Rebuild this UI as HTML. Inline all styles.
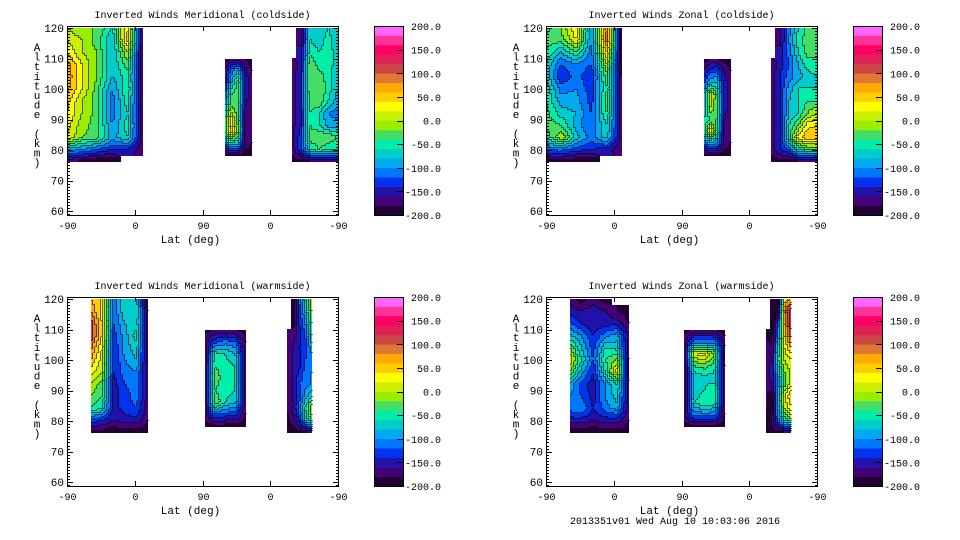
<!DOCTYPE html>
<html><head><meta charset="utf-8"><style>
body{margin:0;background:#fff;}
svg{display:block;font-family:"Liberation Mono",monospace;font-size:10px;}
</style></head><body>
<svg id="chart" width="960" height="540" viewBox="0 0 960 540" xmlns="http://www.w3.org/2000/svg"></svg>
<script>
// ---- data ----
const bandColors = ["#220033","#440077","#2211aa","#0033ee","#0077ff","#00aaee","#00cccc","#00eeaa","#44dd66","#99ee00","#ccee00","#ffff00","#ffcc00","#ffaa00","#dd7733","#cc4444","#dd2255","#ff0066","#ff3399","#ff66ff"];
const colorbarLabels = ["200.0","150.0","100.0","50.0","0.0","-50.0","-100.0","-150.0","-200.0"];
const latTickLabels = ["-90","0","90","0","-90"];
const altTickLabels = ["120","110","100","90","80","70","60"];
const altRowsA = [120,116,112,108,104,100,96,92,88,84,80,76];
const altRowsB = [110,106,102,98,94,90,86,82,78];

const tlA = [[0,-20,-20,-60,40,-180],[20,0,-30,-80,50,-180],[40,0,-20,-80,0,-180],[70,20,-20,-80,-30,-180],[80,20,-20,-80,-50,-170],[70,20,-30,-100,-40,-170],[50,0,-30,-110,-50,-170],[40,0,-30,-110,-60,-170],[30,-10,-30,-100,-50,-170],[20,-20,-30,-90,-60,-170],[-80,-100,-120,-140,-140,-180],[-180,-190,-200,-200,null,null]];
const tlB = [[-190,-180,-180,-180,-190],[-160,-110,-80,-150,-180],[-150,-80,-30,-150,-170],[-120,-40,-20,-150,-170],[-80,-20,-40,-160,-170],[-40,30,-30,-170,-170],[-40,50,-20,-170,-170],[-120,-60,-80,-170,-180],[-190,-190,-190,-190,-190]];
const tlC = [[null,-170,-60,-80,-60,-80],[null,-170,-60,-70,-50,-80],[null,-150,-50,-60,-50,-70],[-180,-150,-20,-50,-50,-70],[-170,-140,-20,-30,-50,-80],[-170,-140,-20,-20,-50,-80],[-170,-140,-30,-20,-60,-90],[-170,-140,-40,-60,-100,-110],[-170,-140,-40,-60,-90,-90],[-170,-130,-30,-20,-20,-40],[-170,-130,-60,-40,-60,-60],[-190,-190,-190,-190,-190,-190]];

const trA = [[-50,-20,40,-100,80,-200],[-30,-30,20,-100,90,-200],[-40,-80,-40,-110,40,-200],[-60,-120,-100,-120,0,-200],[-60,-140,-110,-140,-30,-190],[-40,-110,-100,-130,-40,-180],[-40,-90,-90,-130,-30,-170],[-30,-70,-80,-120,-40,-170],[-30,-40,-90,-120,-60,-170],[-60,0,-70,-110,-70,-170],[-120,-110,-130,-140,-150,-180],[-190,-190,-200,-200,null,null]];
const trB = [[-190,-180,-180,-190,-190],[-160,-130,-120,-160,-180],[-130,-80,-80,-150,-170],[-90,20,-40,-150,-170],[-80,0,-40,-150,-170],[-60,-40,-40,-160,-170],[-60,40,-50,-180,-170],[-120,-90,-100,-170,-180],[-190,-190,-190,-190,-190]];
const trC = [[null,-170,-110,-60,-30,-40],[null,-170,-100,-50,-30,-40],[null,-150,-110,-60,-30,-40],[-180,-150,-120,-80,-50,-40],[-170,-140,-110,-90,-70,-60],[-170,-140,-90,-60,-60,-60],[-170,-140,-80,-60,-40,-40],[-170,-140,-80,-60,-20,0],[-170,-140,-60,-20,30,40],[-170,-140,-50,30,60,60],[-170,-140,-120,-60,-40,-40],[-190,-190,-190,-190,-190,-190]];

const blA = [[60,40,-110,-60,-70,-190],[80,30,-120,-60,-60,-180],[110,40,-120,-80,-70,-170],[120,40,-130,-90,-50,-170],[90,20,-140,-90,-70,-170],[60,10,-140,-100,-80,-170],[30,0,-140,-110,-100,-170],[0,-30,-150,-120,-110,-170],[-20,-40,-150,-130,-110,-170],[-40,-60,-150,-130,-120,-170],[-130,-140,-160,-150,-150,-180],[-190,-190,-200,-190,-190,-190]];
const blB = [[-190,-180,-180,-180,-190],[-170,-130,-110,-120,-180],[-180,-50,-60,-80,-170],[-180,-40,-50,-60,-170],[-180,-30,-50,-60,-170],[-180,-40,-50,-60,-170],[-180,-20,-60,-80,-170],[-170,-120,-130,-130,-180],[-190,-190,-190,-190,-190]];
const blC = [[null,-200,-120,-60,0],[null,-200,-130,-80,-20],[null,-190,-140,-100,-40],[-180,-170,-150,-120,-60],[-180,-160,-140,-130,-90],[-180,-160,-150,-120,-110],[-180,-160,-140,-110,-100],[-180,-160,-120,-110,-100],[-180,-160,-130,-90,-60],[-180,-160,-110,-60,0],[-190,-170,-140,-80,-40],[-200,-190,-190,-190,-190]];

const brA = [[-170,-190,-170,-190,null,null],[-150,-160,-150,-160,-180,-190],[-120,-140,-160,-150,-150,-180],[-80,-100,-140,-110,-90,-170],[-20,-80,-130,-60,-70,-170],[20,-60,-120,-40,-20,-180],[-20,-90,-140,-60,30,-200],[-80,-130,-150,-100,-60,-170],[-100,-120,-150,-100,-70,-170],[-110,-100,-140,-110,-90,-170],[-150,-150,-160,-150,-150,-180],[-190,-190,-200,-190,-190,-190]];
const brB = [[-190,-180,-180,-180,-190],[-170,-110,-110,-110,-170],[-190,20,30,-20,-200],[-190,-40,-30,-50,-180],[-190,-80,-70,-70,-180],[-190,-80,-60,-40,-180],[-190,-60,-40,-50,-180],[-170,-110,-110,-110,-180],[-190,-190,-190,-190,-190]];
const brC = [[null,-200,-200,20,60],[null,-200,-200,80,140],[null,-200,-120,60,130],[-180,-190,-100,40,110],[-170,-180,-60,20,60],[-170,-160,-40,0,20],[-170,-150,-80,-20,0],[-170,-160,-90,-30,10],[-170,-200,-70,20,60],[-170,-200,-80,0,30],[-190,-180,-110,-60,-30],[-200,-190,-190,-190,-190]];

const panels = [
 {name:"meridional-coldside", title:"Inverted Winds Meridional (coldside)", left:67, top:26,
  blocks:[{u0:0,u1:101,rows:altRowsA,v:tlA},{u0:210,u1:246,rows:altRowsB,v:tlB},{u0:299,u1:360,rows:altRowsA,v:tlC}]},
 {name:"zonal-coldside", title:"Inverted Winds Zonal (coldside)", left:546, top:26,
  blocks:[{u0:0,u1:101,rows:altRowsA,v:trA},{u0:210,u1:246,rows:altRowsB,v:trB},{u0:299,u1:360,rows:altRowsA,v:trC}]},
 {name:"meridional-warmside", title:"Inverted Winds Meridional (warmside)", left:67, top:297,
  blocks:[{u0:32,u1:108,rows:altRowsA,v:blA},{u0:183,u1:238,rows:altRowsB,v:blB},{u0:292,u1:326,rows:altRowsA,v:blC}]},
 {name:"zonal-warmside", title:"Inverted Winds Zonal (warmside)", left:546, top:297,
  blocks:[{u0:32,u1:110,rows:altRowsA,v:brA},{u0:183,u1:238,rows:altRowsB,v:brB},{u0:292,u1:326,rows:altRowsA,v:brC}]}
];

// ---- drawing ----
const NS="http://www.w3.org/2000/svg";
const svg=document.getElementById('chart');
const W=271,H=189,ALT_TOP=120.7,PXKM=3.05,PXU=W/360;
function mk(tag,attrs,parent){const e=document.createElementNS(NS,tag);for(const k in attrs)e.setAttribute(k,attrs[k]);(parent||svg).appendChild(e);return e;}
function band(v){let b=Math.floor((v+200)/20);return Math.max(0,Math.min(19,b));}

panels.forEach(p=>{
  const g=mk('g',{});
  
  
  const xU=u=>p.left+u*PXU, yA=a=>p.top+(ALT_TOP-a)*PXKM;
  const t=mk('text',{x:p.left+W/2,y:p.top-8,'text-anchor':'middle'},g);t.textContent=p.title;
  
  
  const fg=mk('g',{},g);
  
  
  p.blocks.forEach(bk=>{
    const nr=bk.rows.length,nc=bk.v[0].length;
    const x0=Math.round(xU(bk.u0)),x1=Math.round(xU(bk.u1));
    const y0=Math.round(yA(bk.rows[0])),y1=Math.round(yA(bk.rows[nr-1]));
    const cs=2, cols=Math.ceil((x1-x0)/cs), rws=Math.ceil((y1-y0)/cs);
    const grid=[];
    for(let j=0;j<rws;j++){grid.push([]);
      for(let i=0;i<cols;i++){
        const fx=((i+0.5)*cs)/(x1-x0)*(nc-1), fy=((j+0.5)*cs)/(y1-y0)*(nr-1);
        const ci=Math.min(nc-2,Math.floor(fx)),ri=Math.min(nr-2,Math.floor(fy));
        const tx=fx-ci,ty=fy-ri;
        const nv=bk.v[Math.min(nr-1,Math.round(fy))][Math.min(nc-1,Math.round(fx))];
        if(nv===null){grid[j].push(-1);continue;}
        let a=bk.v[ri][ci],b=bk.v[ri][ci+1],c=bk.v[ri+1][ci],d=bk.v[ri+1][ci+1];
        const fb=nv;a=a===null?fb:a;b=b===null?fb:b;c=c===null?fb:c;d=d===null?fb:d;
        const val=(a*(1-tx)+b*tx)*(1-ty)+(c*(1-tx)+d*tx)*ty;
        grid[j].push(band(val));
      }}
    const paths={};
    for(let j=0;j<rws;j++){let i=0;
      while(i<cols){const b=grid[j][i];let k=i;while(k<cols&&grid[j][k]===b)k++;
        if(b>=0){const w=Math.min((k-i)*cs,x1-x0-i*cs),h=Math.min(cs,y1-y0-j*cs);
          paths[b]=(paths[b]||'')+`M${x0+i*cs} ${y0+j*cs}h${w}v${h}h${-w}z`;}
        i=k;}}
    for(const b in paths){const pe=mk('path',{d:paths[b],fill:bandColors[b]},fg);
      
      }
    let ld='';
    for(let j=0;j<rws;j++)for(let i=0;i<cols;i++){const b=grid[j][i];if(b<0)continue;
      if(i+1<cols&&grid[j][i+1]>=0&&grid[j][i+1]!==b)ld+=`M${x0+(i+1)*cs-0.5} ${y0+j*cs}v${cs}`;
      if(j+1<rws&&grid[j+1][i]>=0&&grid[j+1][i]!==b)ld+=`M${x0+i*cs} ${y0+(j+1)*cs-0.5}h${cs}`;}
    const lp=mk('path',{d:ld,stroke:'#000','stroke-width':1,'stroke-opacity':0.6,fill:'none'},fg);
    
    
  });
  // frame and ticks
  const fr=mk('rect',{x:p.left+0.5,y:p.top+0.5,width:W,height:H,fill:'none',stroke:'#000'},g);
  
  
  let td='';
  for(let a=59;a<=120;a++){const y=Math.round(yA(a))+0.5,l=(a%10===0)?6:3;
    td+=`M${p.left} ${y}h${l}M${p.left+W+1} ${y}h${-l}`;}
  latTickLabels.forEach((s,i)=>{const x=Math.round(xU(i*90))+0.5;
    td+=`M${x} ${p.top+H}v-5M${x} ${p.top}v5`;
    const tx=mk('text',{x:x,y:p.top+H+14,'text-anchor':'middle'},g);tx.textContent=s;
    
    });
  mk('path',{d:td,stroke:'#000','stroke-width':1},g);
  altTickLabels.forEach(s=>{const ty=mk('text',{x:p.left-3,y:yA(+s)+4,'text-anchor':'end','font-size':'11'},g);ty.textContent=s;
    
    });
  const xt=mk('text',{x:p.left+W/2-12,y:p.top+H+28,'text-anchor':'middle','font-size':'11'},g);xt.textContent='Lat (deg)';
  
  
  const yt=mk('g',{},g);
  
  
  'Altitude (km)'.split('').forEach((ch,i)=>{if(ch===' ')return;
    const c=mk('text',{x:p.left-30,y:p.top+25+i*9.6,'text-anchor':'middle','font-size':'11'},yt);c.textContent=ch;});
  // colorbar
  const cb=mk('g',{},g);
  
  
  const cx=p.left+307,cw=29,bh=H/20,lstep=H/(colorbarLabels.length-1);
  bandColors.forEach((c,i)=>{const r=mk('rect',{x:cx,y:p.top+H-(i+1)*bh,width:cw,height:bh+0.3,fill:c},cb);
    
    });
  mk('rect',{x:cx+0.5,y:p.top+0.5,width:cw,height:H,fill:'none',stroke:'#000'},cb);
  colorbarLabels.forEach((s,i)=>{const y=p.top+i*lstep;
    if(i>0&&i<colorbarLabels.length-1)mk('path',{d:`M${cx+cw} ${Math.round(y)+0.5}h-6`,stroke:'#000'},cb);
    const l=mk('text',{x:cx+67,y:y+4,'text-anchor':'end','font-size':'10'},cb);l.textContent=s;
    
    });
});
const ft=mk('text',{x:675,y:524,'text-anchor':'middle'});ft.textContent='2013351v01 Wed Aug 10 10:03:06 2016';


</script>
</body></html>
